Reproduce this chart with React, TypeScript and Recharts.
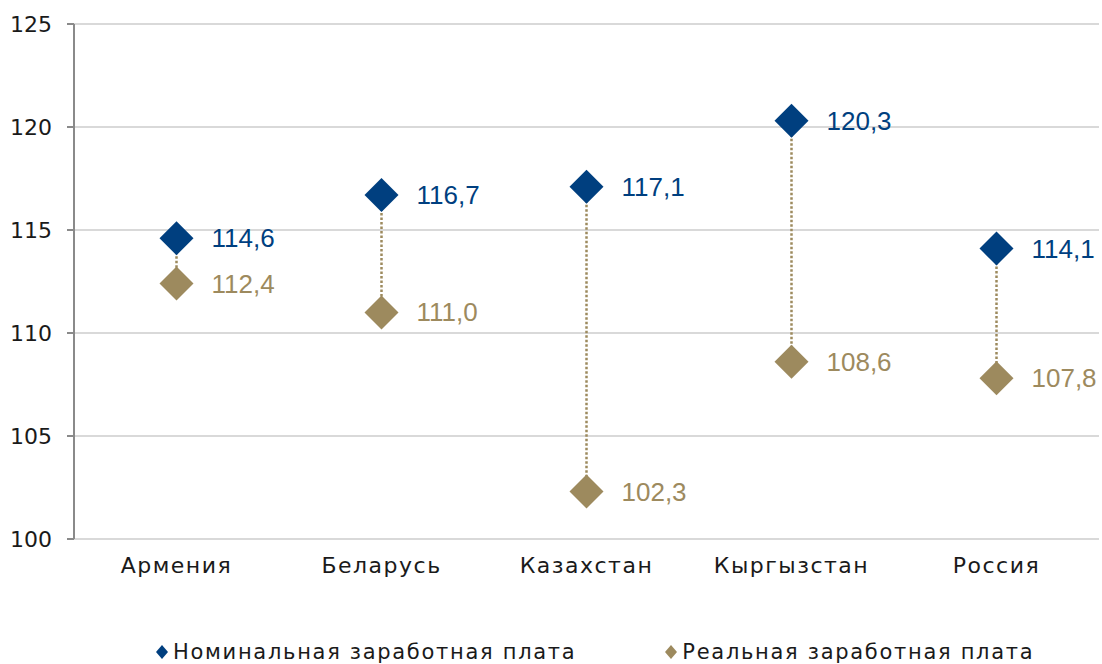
import React from 'react';
import { ComposedChart, Bar, Line, XAxis, YAxis, CartesianGrid, LabelList, Legend } from 'recharts';

const countries = ['Армения', 'Беларусь', 'Казахстан', 'Кыргызстан', 'Россия'];
const nominal = [114.6, 116.7, 117.1, 120.3, 114.1];
const real = [112.4, 111.0, 102.3, 108.6, 107.8];
const yTicks = [100, 105, 110, 115, 120, 125];
const seriesNames = ['Номинальная заработная плата', 'Реальная заработная плата'];

const NAVY = '#003f7f';
const GOLD = '#9d8a5e';
const FONT = "'DejaVu Sans', sans-serif";

const data = countries.map((c, i) => ({
  name: c,
  nominal: nominal[i],
  real: real[i],
  range: [real[i], nominal[i]],
}));

if (typeof document !== 'undefined') document.body.style.margin = '0';

const diamond = (color: string) => (props: any) => {
  const { cx, cy } = props;
  if (cx == null || cy == null) return <g />;
  const r = 17;
  return (
    <path
      key={`${color}-${cx}`}
      d={`M${cx},${cy - r}L${cx + r},${cy}L${cx},${cy + r}L${cx - r},${cy}Z`}
      fill={color}
    />
  );
};

const Connector = (props: any) => {
  const { x, y, width, height } = props;
  const cx = x + width / 2;
  return <line x1={cx} x2={cx} y1={y} y2={y + height} stroke={GOLD} strokeWidth={2.5} strokeDasharray="2.5 2" />;
};

const valueLabel = (color: string) => (props: any) => {
  const { x, y, value } = props;
  return (
    <text x={x + 35} y={y} dy={9} fill={color} fontSize={26} fontFamily="'Liberation Sans', Arial, sans-serif">
      {Number(value).toFixed(1).replace('.', ',')}
    </text>
  );
};

const LegendContent = () => (
  <div style={{ display: 'flex', gap: 88, fontFamily: FONT, fontSize: 21, letterSpacing: 1.7, color: '#1a1a1a', paddingTop: 51, paddingLeft: 155 }}>
    {seriesNames.map((n, i) => (
      <span key={n} style={{ display: 'flex', alignItems: 'center', whiteSpace: 'nowrap' }}>
        <svg width={14} height={14} style={{ marginRight: 4 }}>
          <path d="M7,0L13,7L7,14L1,7Z" fill={i === 0 ? NAVY : GOLD} />
        </svg>
        {n}
      </span>
    ))}
  </div>
);

export default function App() {
  return (
    <div style={{ width: 1102, height: 664, background: '#fff' }}>
      <ComposedChart width={1102} height={664} data={data} margin={{ top: 24, right: 3, left: 0, bottom: 0 }}>
        <CartesianGrid vertical={false} stroke="#d9d9d9" strokeWidth={2} />
        <XAxis
          dataKey="name"
          axisLine={false}
          tickLine={false}
          height={50}
          tickMargin={12}
          tick={{ fill: '#1a1a1a', fontSize: 22, fontFamily: FONT, letterSpacing: 1.5 }}
        />
        <YAxis
          domain={[100, 125]}
          ticks={yTicks}
          width={74}
          axisLine={{ stroke: '#8a8a8a', strokeWidth: 2 }}
          tickLine={{ stroke: '#8a8a8a', strokeWidth: 2 }}
          tickSize={7}
          tickMargin={15}
          tick={{ fill: '#1a1a1a', fontSize: 22, fontFamily: FONT }}
        />
        <Bar dataKey="range" shape={<Connector />} isAnimationActive={false} />
        <Line
          dataKey="real"
          stroke="none"
          dot={diamond(GOLD)}
          activeDot={false}
          isAnimationActive={false}
        >
          <LabelList dataKey="real" content={valueLabel(GOLD)} />
        </Line>
        <Line
          dataKey="nominal"
          stroke="none"
          dot={diamond(NAVY)}
          activeDot={false}
          isAnimationActive={false}
        >
          <LabelList dataKey="nominal" content={valueLabel(NAVY)} />
        </Line>
        <Legend verticalAlign="bottom" height={75} content={<LegendContent />} />
      </ComposedChart>
    </div>
  );
}
